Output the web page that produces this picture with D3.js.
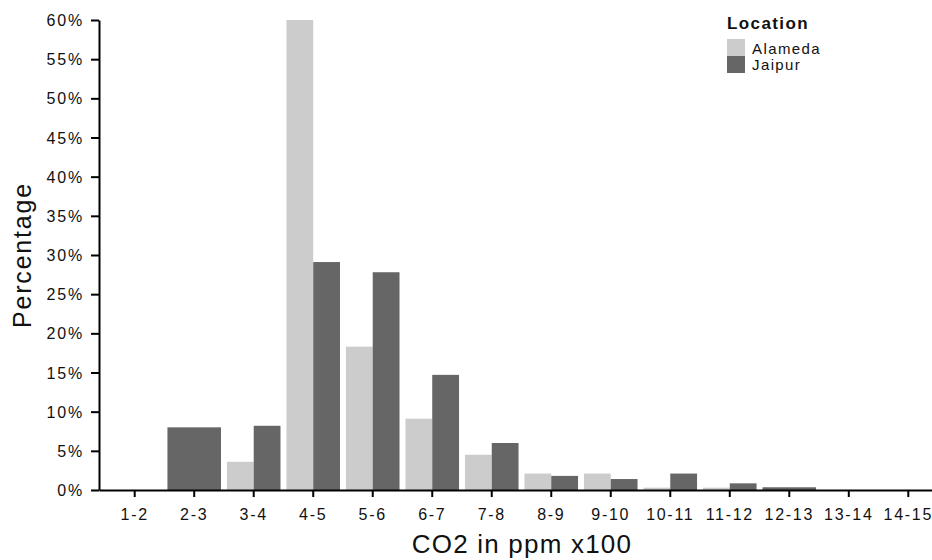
<!DOCTYPE html>
<html>
<head>
<meta charset="utf-8">
<script src="https://cdn.jsdelivr.net/npm/d3@7"></script>
<style>
  html, body { margin: 0; padding: 0; background: #fff; }
  svg { display: block; }
  text { font-family: "Liberation Sans", Arial, sans-serif; fill: #111; }
</style>
</head>
<body>
<svg id="chart" width="932" height="560"></svg>
<script>
// CO2 concentration bins (ppm x100)
const categories = ["1-2", "2-3", "3-4", "4-5", "5-6", "6-7", "7-8",
                    "8-9", "9-10", "10-11", "11-12", "12-13", "13-14", "14-15"];

// Share of readings per bin, in percent (null = no readings in that bin)
const alameda = [null, null, 3.6, 60, 18.3, 9.1, 4.5, 2.1, 2.1, 0.3, 0.3, null, null, null];
const jaipur  = [null, 8.0, 8.2, 29.1, 27.8, 14.7, 6.0, 1.8, 1.4, 2.1, 0.85, 0.35, null, null];

const seriesNames  = ["Alameda", "Jaipur"];
const seriesColors = ["#cccccc", "#666666"];

const yTickValues = [0, 5, 10, 15, 20, 25, 30, 35, 40, 45, 50, 55, 60];

const svg = d3.select("#chart");

// Panel: the discrete axis keeps 0.6 of a step on each side of the outer bins
const x = d3.scaleBand()
  .domain(categories)
  .range([99, 944])
  .paddingInner(0)
  .paddingOuter(0.1);

const y = d3.scaleLinear()
  .domain([0, 60])
  .range([490, 20]);

// Bars: dodged within each bin over the series that have data there
const seriesValues = [alameda, jaipur];
const barRows = [];
categories.forEach((cat, i) => {
  const present = seriesValues
    .map((vals, s) => ({ s, v: vals[i] }))
    .filter(d => d.v !== null && d.v !== undefined);
  const total = x.bandwidth() * 0.9;
  const w = present.length ? total / present.length : 0;
  const x0 = x(cat) + (x.bandwidth() - total) / 2;
  present.forEach((d, k) => {
    barRows.push({ cat, s: d.s, v: d.v, x: x0 + k * w, w });
  });
});

svg.append("g")
  .selectAll("rect")
  .data(barRows)
  .join("rect")
  .attr("x", d => d.x)
  .attr("width", d => d.w)
  .attr("y", d => y(d.v))
  .attr("height", d => y(0) - y(d.v))
  .attr("fill", d => seriesColors[d.s]);

// Y axis
const yAxis = svg.append("g")
  .attr("transform", "translate(99,0)")
  .call(d3.axisLeft(y)
    .tickValues(yTickValues)
    .tickFormat(d => d + "%")
    .tickSize(8)
    .tickSizeOuter(0)
    .tickPadding(7));
yAxis.select(".domain").attr("stroke", "#000").attr("stroke-width", 2);
yAxis.selectAll(".tick line").attr("stroke", "#000").attr("stroke-width", 2);
yAxis.selectAll(".tick text")
  .attr("font-size", 16)
  .attr("dy", "0.35em")
  .style("letter-spacing", "1.8px")
  .attr("fill", "#111");

// X axis
const xAxis = svg.append("g")
  .attr("transform", "translate(0,490)")
  .call(d3.axisBottom(x)
    .tickSize(7)
    .tickSizeOuter(0)
    .tickPadding(12));
xAxis.select(".domain").attr("stroke", "#000").attr("stroke-width", 2);
xAxis.selectAll(".tick line").attr("stroke", "#000").attr("stroke-width", 2);
xAxis.selectAll(".tick text")
  .attr("font-size", 16)
  .attr("dy", "0.71em")
  .style("letter-spacing", "1.7px")
  .attr("fill", "#111");

// Axis titles
svg.append("text")
  .attr("x", 522)
  .attr("y", 553)
  .attr("text-anchor", "middle")
  .attr("font-size", 26)
  .style("letter-spacing", "1.2px")
  .text("CO2 in ppm x100");

svg.append("text")
  .attr("transform", "translate(31,255) rotate(-90)")
  .attr("text-anchor", "middle")
  .attr("font-size", 25)
  .style("letter-spacing", "1.8px")
  .text("Percentage");

// Legend
const legend = svg.append("g").attr("transform", "translate(727,0)");
legend.append("text")
  .attr("x", 0)
  .attr("y", 29)
  .attr("font-size", 17)
  .attr("font-weight", "bold")
  .style("letter-spacing", "1.4px")
  .text("Location");

const items = legend.selectAll("g.item")
  .data(seriesNames)
  .join("g")
  .attr("class", "item")
  .attr("transform", (d, i) => `translate(0,${39 + i * 17})`);
items.append("rect")
  .attr("width", 18)
  .attr("height", 17)
  .attr("fill", (d, i) => seriesColors[i]);
items.append("text")
  .attr("x", 25)
  .attr("y", (d, i) => i === 0 ? 14.5 : 14)
  .attr("font-size", 15)
  .style("letter-spacing", "1.4px")
  .text(d => d);
</script>
</body>
</html>
